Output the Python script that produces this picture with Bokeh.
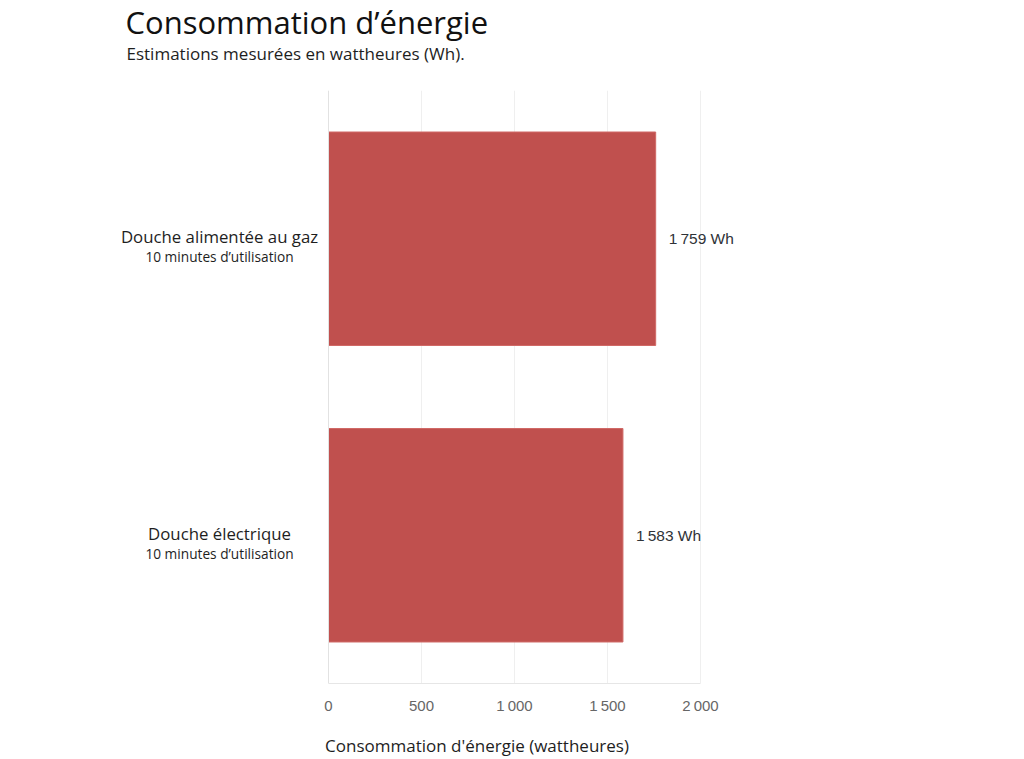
from bokeh.plotting import figure
from bokeh.models import (ColumnDataSource, FactorRange, Range1d, Title, Span, LinearAxis,
                          CustomJSTickFormatter, FixedTicker)
from bokeh.core.properties import value
from bokeh.embed import file_html
from bokeh.resources import INLINE

# ---- data ----
categories = ["Douche alimentée au gaz", "Douche électrique"]
subtitles = ["10 minutes d’utilisation", "10 minutes d’utilisation"]
values = [1759, 1583]
x_ticks = [0, 500, 1000, 1500, 2000]
title_text = "Consommation d’énergie"
subtitle_text = "Estimations mesurées en wattheures (Wh)."
x_title = "Consommation d'énergie (wattheures)"

def fmt(v):
    return f"{v:,}".replace(",", "\u202f") + " Wh"

# ---- layout (pixels) ----
W, H = 1020, 759
FRAME_L, FRAME_R, FRAME_T, FRAME_B = 100, 853, 90, 683
ZERO_PX, MAX_PX = 328, 700           # where 0 and the last tick sit
ppu = (MAX_PX - ZERO_PX) / x_ticks[-1]
x_start = -(ZERO_PX - FRAME_L) / ppu
x_end = x_ticks[-1] + (FRAME_R - MAX_PX) / ppu

SANS = "Open Sans"
src = ColumnDataSource(dict(
    cat=categories,
    sub=subtitles,
    val=values,
    lab=[fmt(v) for v in values],
))

p = figure(width=W, height=H,
           y_range=FactorRange(factors=list(reversed(categories)), range_padding=0),
           x_range=Range1d(x_start, x_end),
           output_backend="svg", toolbar_location=None,
           min_border_left=FRAME_L, min_border_right=W - FRAME_R,
           min_border_top=FRAME_T, min_border_bottom=H - FRAME_B)
p.outline_line_color = None
p.background_fill_color = "white"

# blank spacer band between the subtitle and the plot area (white tick on white)
spacer = LinearAxis(ticker=FixedTicker(ticks=[x_ticks[0]]), axis_line_color=None,
                    major_tick_line_color="white", minor_tick_line_color=None,
                    major_tick_out=26, minor_tick_out=0, major_tick_in=0,
                    major_label_standoff=0, major_label_text_font_size="1px",
                    major_label_overrides={x_ticks[0]: ""})
p.add_layout(spacer, "above")

# titles
p.add_layout(Title(text=subtitle_text, align="left", offset=26, standoff=0,
                   text_font=SANS, text_font_size="17px", text_font_style="normal",
                   text_color="#1e1e1e"), "above")
p.add_layout(Title(text=title_text, align="left", offset=25, standoff=-9.6,
                   vertical_align="top",
                   text_font=SANS, text_font_size="31px", text_font_style="normal",
                   text_color="#111111"), "above")

# grid & axes
p.xgrid.ticker = FixedTicker(ticks=x_ticks)
p.xgrid.grid_line_color = "#efefef"
p.ygrid.grid_line_color = None

xax = p.below[0]
xax.ticker = FixedTicker(ticks=x_ticks)
xax.bounds = (x_ticks[0], x_ticks[-1])
xax.formatter = CustomJSTickFormatter(
    code="return tick.toString().replace(/\\B(?=(\\d{3})+(?!\\d))/g, '\\u202f');")
xax.axis_line_color = "#e6e6e6"
xax.major_tick_line_color = None
xax.minor_tick_line_color = None
xax.major_label_standoff = 7
xax.major_label_text_font = "Liberation Sans"
xax.major_label_text_font_size = "15px"
xax.major_label_text_color = "#666666"
xax.axis_label = x_title
xax.axis_label_standoff = 17
xax.axis_label_text_font = SANS
xax.axis_label_text_font_size = "17px"
xax.axis_label_text_font_style = "normal"
xax.axis_label_text_color = "#1e1e1e"
p.yaxis.visible = False
p.add_layout(Span(location=0, dimension="height", line_color="#e2e2e2", line_width=1))

# bars
p.hbar(y="cat", right="val", left=0, height=0.72, source=src,
       fill_color="#C0504E", line_color="#D06966", line_width=1)

# category labels (two lines)
p.text(x=0, y="cat", text="cat", source=src, x_offset=-109, y_offset=-2,
       text_align="center", text_baseline="alphabetic",
       text_font=value(SANS), text_font_size="16.8px", text_color="#1e1e1e")
p.text(x=0, y="cat", text="sub", source=src, x_offset=-109, y_offset=18,
       text_align="center", text_baseline="alphabetic",
       text_font=value(SANS), text_font_size="13.7px", text_color="#1e1e1e")

# value labels
p.text(x="val", y="cat", text="lab", source=src, x_offset=13,
       text_align="left", text_baseline="middle",
       text_font=value("Liberation Sans"), text_font_size="15.5px", text_color="#2f3338")

open("out.html", "w").write(file_html(p, INLINE))
